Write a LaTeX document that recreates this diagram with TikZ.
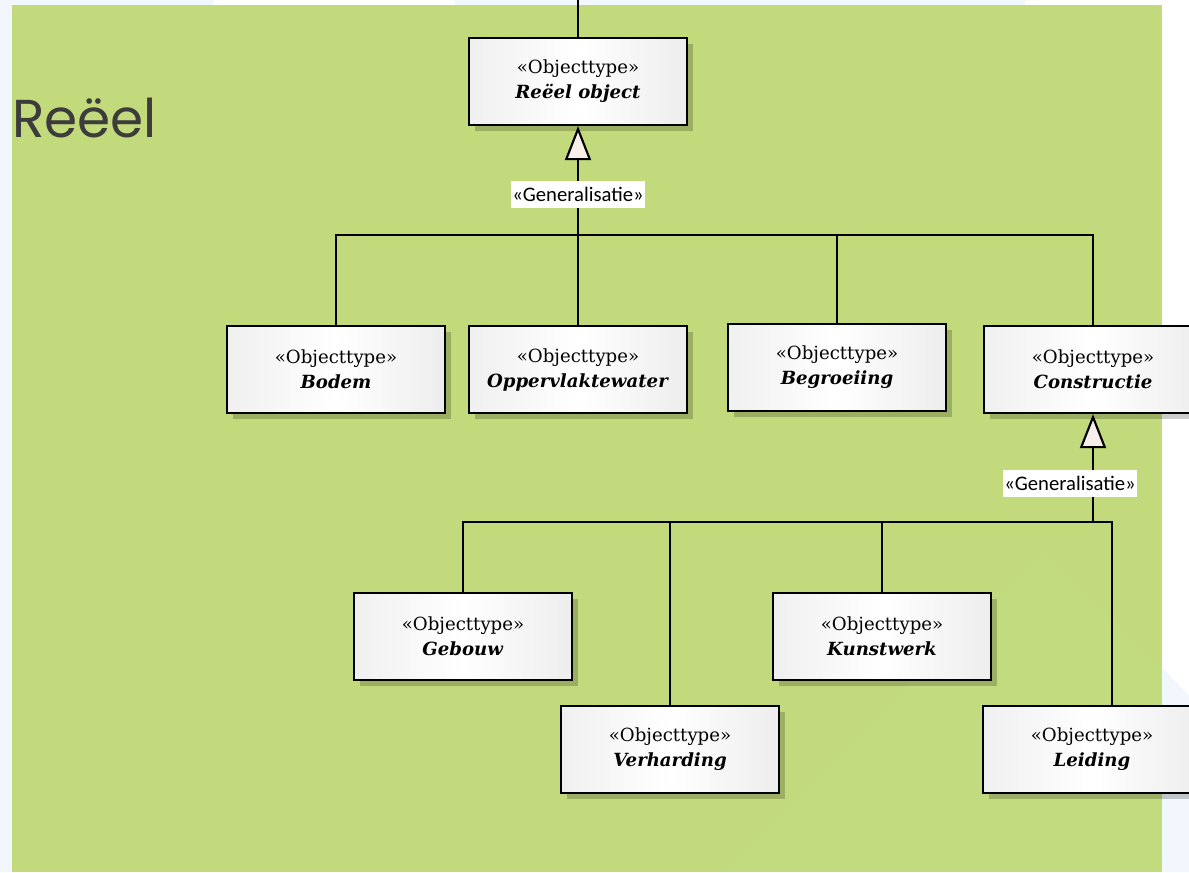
\documentclass[tikz,border=0pt]{standalone}
\usepackage{fontspec}
\setmainfont{DejaVu Serif}
\newfontfamily\labelfont{Carlito}
\newfontfamily\titelfont{Poppins}
\usetikzlibrary{arrows.meta,shadows}
\definecolor{groen}{RGB}{194,218,123}
\definecolor{lichtblauw}{RGB}{241,247,253}
\definecolor{titelgrijs}{RGB}{60,60,60}
\definecolor{punt}{RGB}{248,238,234}

\begin{document}
\begin{tikzpicture}
    [x=0.75pt,y=-0.75pt,
     objtype/.style={rectangle,draw,line width=1.7pt,
       minimum width=163.5pt,minimum height=65.25pt,inner sep=0pt,
       left color=white!94!black,right color=white!93!black,middle color=white,
       drop shadow={shadow xshift=4.5pt,shadow yshift=-4.5pt,opacity=0.2,fill=black},
       align=center,font=\fontsize{13.6}{18.75}\selectfont},
     lijn/.style={line width=1.6pt},
     gen/.style={lijn,-{Triangle[length=25.5pt,width=19.5pt,fill=punt]}},
     stereo/.style={fill=white,inner xsep=1pt,inner ysep=0pt,minimum height=20.25pt,
       font=\labelfont\fontsize{15.5}{18}\selectfont}]
    \useasboundingbox (0,0) rectangle (1189,872);
    \clip (0,0) rectangle (1189,872);

    % achtergrond
    \fill[white] (0,0) rectangle (1189,872);
    \fill[lichtblauw] (0,0) rectangle (12,872);
    \fill[lichtblauw] (0,0) rectangle (213,5);
    \fill[lichtblauw] (455,0) rectangle (1025,5);
    \fill[lichtblauw] (1042,548) -- (1366,872) -- (718,872) -- cycle;
    \fill[groen] (12,5) rectangle (1162,872);
    \fill[white,opacity=0.03] (1042,548) -- (1366,872) -- (718,872) -- cycle;

    \node[anchor=base west,inner sep=0pt,text=titelgrijs,
      font=\titelfont\fontsize{40}{46}\selectfont] (titel) at (12,137) {Reëel};

    % objecttypen
    \node[objtype] (reeel) at (578,81.5) {«Objecttype»\\\textbf{\itshape Reëel object}};
    \foreach \naam/\x/\y/\titel in {bodem/336/369.5/Bodem,
        opp/578/369.5/Oppervlaktewater,
        begroeiing/837/367.5/Begroeiing,
        constructie/1093/369.5/Constructie,
        gebouw/463/636.5/Gebouw,
        kunstwerk/882/636.5/Kunstwerk,
        verharding/670/749.5/Verharding,
        leiding/1092/749.5/Leiding}
      \node[objtype] (\naam) at (\x,\y) {«Objecttype»\\\textbf{\itshape\titel}};

    % generalisaties
    \coordinate (boven) at (578,0);
    \draw[lijn] (reeel.north) -- (boven);

    \coordinate (bus1) at (578,235);
    \draw[gen] (bus1) -- (reeel.south);
    \foreach \naam in {bodem,opp,begroeiing,constructie}
      \draw[lijn] (\naam.north) |- (bus1);

    \coordinate (bus2) at (1093,522);
    \draw[gen] (bus2) -- (constructie.south);
    \foreach \naam in {gebouw,verharding,kunstwerk}
      \draw[lijn] (\naam.north) |- (bus2);
    \draw[lijn] ([xshift=15pt]leiding.north) |- (bus2);

    \node[stereo] (gen reeel) at (578,194) {«Generalisatie»};
    \node[stereo] (gen constructie) at (1070,483) {«Generalisatie»};
\end{tikzpicture}
\end{document}
